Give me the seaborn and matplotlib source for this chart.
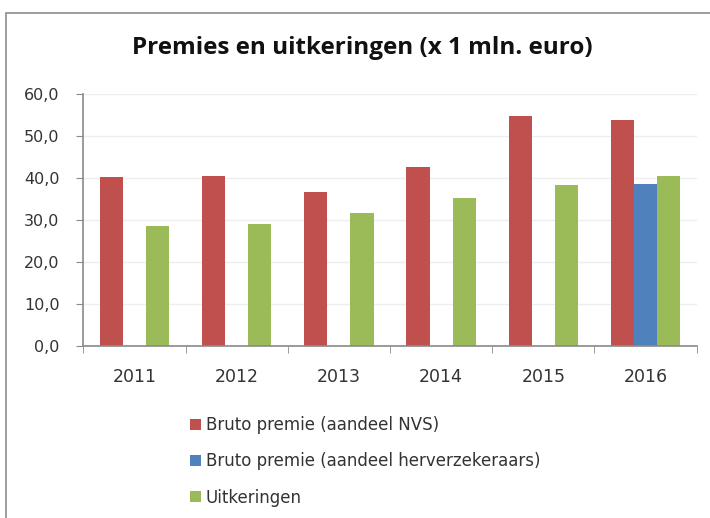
import pandas as pd
import numpy as np
import matplotlib.pyplot as plt
import matplotlib.patches as mpatches
from matplotlib.ticker import FuncFormatter, FixedLocator
import seaborn as sns

# data (x 1 mln. euro)
jaren = ['2011', '2012', '2013', '2014', '2015', '2016']
premie_nvs = [40.1, 40.4, 36.7, 42.7, 54.7, 53.8]
premie_herverz = [np.nan, np.nan, np.nan, np.nan, np.nan, 38.6]
uitkeringen = [28.5, 28.9, 31.6, 35.2, 38.2, 40.4]

reeksen = ['Bruto premie (aandeel NVS)', 'Bruto premie (aandeel herverzekeraars)', 'Uitkeringen']
kleuren = ['#C0504D', '#4F81BD', '#9BBB59']

df = pd.DataFrame({
    'jaar': jaren * 3,
    'reeks': [reeksen[0]] * 6 + [reeksen[1]] * 6 + [reeksen[2]] * 6,
    'waarde': premie_nvs + premie_herverz + uitkeringen,
})
df = df.dropna()

sns.set_style("white")
plt.rcParams['font.family'] = ['DejaVu Sans']

fig = plt.figure(figsize=(7.1, 5.18), dpi=100)
ax = fig.add_axes([0.1173, 0.3326, 0.864, 0.486])

sns.barplot(data=df, x='jaar', y='waarde', hue='reeks', hue_order=reeksen,
            order=jaren, palette=kleuren, width=0.68, linewidth=0,
            saturation=1, ax=ax)

# outer chart frame (cut off at the right and bottom)
fig.patches.append(mpatches.Rectangle((6 / 710, -0.1), 1.1, 1 - 13 / 518 + 0.1,
                                      transform=fig.transFigure, fill=False,
                                      edgecolor='#8c8c8c', linewidth=1.2))

fig.text(362 / 710, 1 - 48 / 518, 'Premies en uitkeringen (x 1 mln. euro)',
         ha='center', va='center', fontsize=17.5, fontweight='bold', color='#111111',
         family='Open Sans')

ax.set_ylim(0, 60)
ax.set_xlim(-0.5, 5.5)
ax.yaxis.set_major_locator(FixedLocator(np.arange(0, 61, 10)))
ax.yaxis.set_major_formatter(FuncFormatter(lambda v, p: f"{v:.1f}".replace('.', ',')))
ax.yaxis.grid(True, color='#eeeeee', linewidth=1)
ax.set_axisbelow(True)
ax.set_xlabel('')
ax.set_ylabel('')

for s in ['top', 'right']:
    ax.spines[s].set_visible(False)
for s in ['left', 'bottom']:
    ax.spines[s].set_color('#8a8a8a')
    ax.spines[s].set_linewidth(1.2)

ax.tick_params(axis='y', which='major', direction='out', length=5, color='#8a8a8a',
               labelsize=11.5, labelcolor='#333333', left=True, pad=12)
ax.tick_params(axis='x', which='major', length=0, labelsize=12.5, labelcolor='#333333', pad=16)
ax.xaxis.set_minor_locator(FixedLocator(np.arange(-0.5, 6, 1)))
ax.tick_params(axis='x', which='minor', direction='out', length=5, color='#8a8a8a', bottom=True)

handles, labels = ax.get_legend_handles_labels()
ax.legend_.remove()
fig.legend(handles, labels, loc='upper left', bbox_to_anchor=(175 / 710, 1 - 401 / 518),
           frameon=False, fontsize=12, labelspacing=1.1, handlelength=0.65,
           handleheight=0.65, handletextpad=0.3, labelcolor='#333333')

fig.savefig('out.png', dpi=100)
